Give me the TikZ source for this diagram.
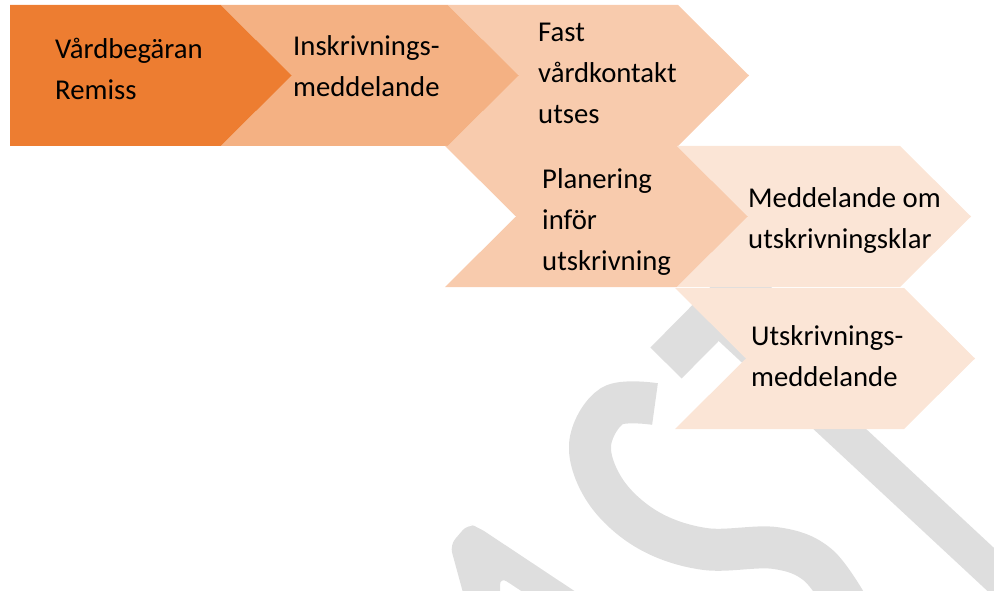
\documentclass[tikz,border=0pt]{standalone}
\usepackage{fontspec}
\setmainfont{Carlito}
\definecolor{steg1}{HTML}{ED7D31}
\definecolor{steg2}{HTML}{F4B183}
\definecolor{steg3}{HTML}{F8CBAD}
\definecolor{steg4}{HTML}{FBE5D6}
\definecolor{vmgra}{HTML}{DEDEDE}
\tikzset{
	etikett/.style={anchor=base west, align=left, inner sep=0pt, font=\fontsize{28.7}{41}\selectfont},
	vattenmark/.style={draw=vmgra, line width=42pt}
}
\begin{document}
\begin{tikzpicture}[x=1pt,y=-1pt]
		\useasboundingbox (0,0) rectangle (994,591);

		\begin{scope}
			\clip (0,0) rectangle (994,591);
			\draw[vattenmark, line width=44pt] (666,363) -- (764,264);
			\draw[vattenmark, line width=36pt] (715,313) -- (1030,606);
			\draw[vattenmark] plot[smooth, tension=0.6] coordinates {(655,404) (612,406) (590,445) (606,492) (648,530) (705,549) (775,548) (818,565) (850,610)};
			\fill[vmgra, rounded corners=8pt] (450,545) -- (468,524) -- (478,527) -- (588,600) -- (535,600) -- (500,577) -- (500,600) -- (465,600) -- cycle;
		\end{scope}

		\fill[steg1] (10,5) -- (221,5) -- (292,75.5) -- (221,146) -- (10,146) -- cycle;
		\foreach \xa/\xb/\ya/\col in {221/448/5/steg2, 448/678/5/steg3, 445/677/146/steg3, 677/900/146/steg4, 675/904/288/steg4}
			\fill[\col] (\xa,\ya) -- (\xb,\ya) -- ++(71,70.5) -- (\xb,\ya+141) -- (\xa,\ya+141) -- ++(71,-70.5) -- cycle;

		\node[etikett] (remiss) at (55,100) {Vårdbegäran\\Remiss};
		\node[etikett] (inskrivning) at (293,97) {Inskrivnings-\\meddelande};
		\node[etikett] (kontakt) at (538,124) {Fast\\vårdkontakt\\utses};
		\node[etikett] (planering) at (542,270) {Planering\\inför\\utskrivning};
		\node[etikett] (klar) at (748,248) {Meddelande om\\utskrivningsklar};
		\node[etikett] (utskrivning) at (751,386) {Utskrivnings-\\meddelande};
	\end{tikzpicture}
\end{document}
